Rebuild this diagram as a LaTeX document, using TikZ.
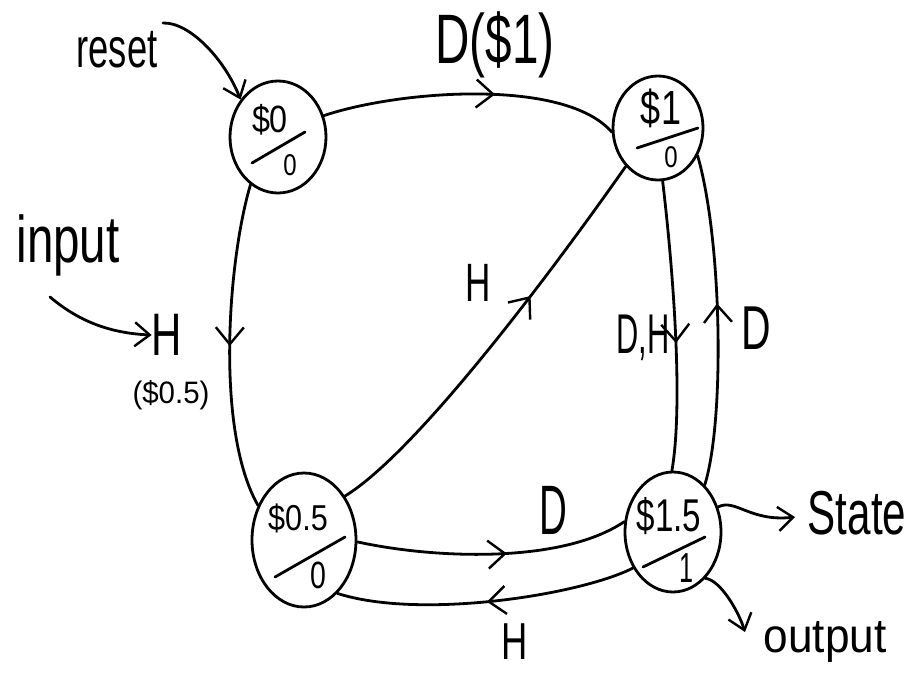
\documentclass[tikz,border=0pt]{standalone}
\usepackage{fontspec}
\usepackage{graphicx}
\setmainfont{Liberation Sans}
\usetikzlibrary{shapes.geometric,arrows.meta,decorations.markings}

% narrow, tall lettering
\newcommand\hw[2]{\scalebox{#1}[1]{#2}}

\tikzset{
  pen/.style={line width=2.8pt, line cap=round, line join=round},
  state/.style={pen, draw, ellipse, inner sep=0pt},
  lbl/.style={inner sep=0pt, font=\fontsize{#1}{#1}\selectfont},
  barb/.style={-{Straight Barb[length=15pt,width=24pt,line width=2.4pt]}},
  marr/.style={postaction={decorate},
    decoration={markings, mark=at position #1 with
      {\arrow{Straight Barb[length=17pt,width=28pt,line width=2.4pt]}}}},
}

\begin{document}
\begin{tikzpicture}[x=1pt,y=-1pt]
  \fill[white] (0,0) rectangle (908,689);
  \useasboundingbox (0,0) rectangle (908,689);

  % states: amount inserted over output
  \node[state, minimum width=96pt, minimum height=112pt] (s0) at (278,137) {};
  \node[state, minimum width=90pt, minimum height=104pt] (s1) at (658,128) {};
  \node[state, minimum width=104pt, minimum height=134pt] (s05) at (304,540) {};
  \node[state, minimum width=96pt, minimum height=120pt] (s15) at (673,532) {};

  \draw[pen] (252,163) -- (305,132);
  \draw[pen] (637,148) -- (698,128);
  \draw[pen] (275,577) -- (345,537);
  \draw[pen] (643,567) -- (705,537);

  \node[lbl=38] (s0t) at (270,120) {\hw{0.85}{\$0}};
  \node[lbl=30] (s0b) at (290,165) {\hw{0.8}{0}};
  \node[lbl=48] (s1t) at (661,108) {\hw{0.75}{\$1}};
  \node[lbl=30] (s1b) at (671,157) {\hw{0.8}{0}};
  \node[lbl=36] (s05t) at (298,518) {\hw{0.85}{\$0.5}};
  \node[lbl=38] (s05b) at (318,575) {\hw{0.75}{0}};
  \node[lbl=46] (s15t) at (669,516) {\hw{0.72}{\$1.5}};
  \node[lbl=42] (s15b) at (687,568) {\hw{0.6}{1}};

  % transitions
  \draw[pen, marr=0.58] (s0.25) .. controls (400,90) and (565,78) .. (s1.185);
  \draw[pen, marr=0.5] (s0.240) .. controls (228,260) and (215,430) .. (s05.143);
  \draw[pen, marr=0.63] (s05.47) .. controls (420,450) and (560,260) .. (s1.230);
  \draw[pen, marr=0.56] (s1.275) .. controls (672,260) and (684,400) .. (s15.91);
  \draw[pen, marr=0.55] (s15.56) .. controls (725,420) and (722,240) .. (s1.325);
  \draw[pen, marr=0.55] (s05.358) .. controls (430,558) and (560,565) .. (s15.168);
  \draw[pen, marr=0.5] (s15.222) .. controls (580,595) and (420,620) .. (s05.302);

  % edge labels
  \node[lbl=70] (ltop) at (495,45) {\hw{0.68}{D(\$1)}};
  \node[lbl=60] (lh) at (167,335) {\hw{0.7}{H}};
  \node[lbl=31] (lhv) at (171,395) {\hw{0.95}{(\$0.5)}};
  \node[lbl=54] (ldiag) at (478,283) {\hw{0.65}{H}};
  \node[lbl=56] (ldh) at (643,338) {\hw{0.55}{D,H}};
  \node[lbl=62] (lup) at (756,328) {\hw{0.66}{D}};
  \node[lbl=70] (lbd) at (553,510) {\hw{0.55}{D}};
  \node[lbl=52] (lbh) at (515,642) {\hw{0.7}{H}};

  % annotations
  \node[lbl=56] (reset) at (117,50) {\hw{0.65}{reset}};
  \node[lbl=66, anchor=base] (input) at (68,262) {\hw{0.72}{input}};
  \node[lbl=62] (statetxt) at (857,513) {\hw{0.68}{State}};
  \node[lbl=48, anchor=base] (outtxt) at (825,652) {\hw{0.92}{output}};

  \coordinate (rs) at (163,23);
  \coordinate (is) at (50,297);
  \coordinate (stip) at (795,517);
  \coordinate (otip) at (745,632);

  \draw[pen, barb] (rs) .. controls (190,22) and (225,60) .. (s0.135);
  \draw[pen, barb] (is) .. controls (75,318) and (105,333) .. (lh.west);
  \draw[pen, barb] (s15.29) .. controls (735,498) and (750,522) .. (stip);
  \draw[pen, barb] (s15.305) .. controls (720,580) and (738,610) .. (otip);
\end{tikzpicture}
\end{document}
